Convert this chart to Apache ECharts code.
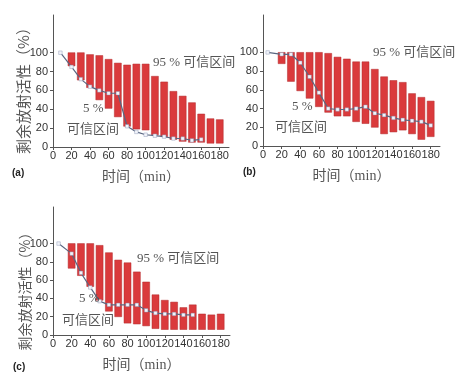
<!DOCTYPE html>
<html>
<head>
<meta charset="utf-8">
<script src="https://cdn.jsdelivr.net/npm/echarts@6/dist/echarts.min.js"></script>
<style>
html,body{margin:0;padding:0;background:#fff;}
#c{width:473px;height:373px;}
</style>
</head>
<body>
<div id="c"></div>
<script>
// ---- data ----
const times = [20,30,40,50,60,70,80,90,100,110,120,130,140,150,160,170,180];

const aHigh = [100,100,98,97,93,89,87,88,88,75,69,59,54,47,35,30,29];
const aLow  = [86,71,63,50,41,32,22,19,18,13,11,8,6,5,5,4,4];
const aLineX = [8,20,30,40,50,60,70,80,90,100,110,120,130,140,150,160];
const aLineY = [100,85,72,64,60,57,57,22,16,13,12,11,9,9,7,8];

const bHigh = [100,100,100,100,100,99,95,93,90,90,82,74,70,68,56,52,48];
const bLow  = [88,69,59,51,42,36,32,32,26,24,20,13,15,17,13,7,10];
const bLineX = [5,20,30,40,50,60,70,80,90,100,110,120,130,140,150,160,170,180];
const bLineY = [100,98,98,89,74,57,40,39,39,40,42,35,33,30,28,27,26,22];

const cHigh = [100,100,100,98,90,82,79,69,58,44,38,36,30,33,23,22,23];
const cLow  = [73,65,53,38,26,20,13,12,10,7,6,6,6,6,6,6,6];
const cLineX = [6,20,30,40,50,60,70,80,90,100,110,120,130,140,150];
const cLineY = [100,89,68,52,37,33,33,33,33,27,24,23,23,22,22];

const xTicks = [0,20,40,60,80,100,120,140,160,180];
const yTicks = [0,20,40,60,80,100];

const yName = '剩余放射活性（%）';
const xName = '时间（min）';
const upperText = '95 % 可信区间';
const lowerText1 = '5 %';
const lowerText2 = '可信区间';
const panelLabels = ['(a)','(b)','(c)'];

// ---- build ----
const panels = [
  {high:aHigh, low:aLow, lx:aLineX, ly:aLineY, grid:{left:53, top:15, width:176, height:132}},
  {high:bHigh, low:bLow, lx:bLineX, ly:bLineY, grid:{left:263, top:15, width:177, height:131}},
  {high:cHigh, low:cLow, lx:cLineX, ly:cLineY, grid:{left:53, top:207, width:177, height:131}}
];

const numFont = "'Liberation Sans', Arial, sans-serif";
const serifFont = "'Liberation Serif', 'Noto Sans CJK SC', serif";
const cjkFont = "'Noto Sans CJK SC', sans-serif";

function renderRange(params, api) {
  const x = api.value(0), lo = api.value(1), hi = api.value(2);
  const pHi = api.coord([x, hi]);
  const pLo = api.coord([x, lo]);
  const w = 7;
  return {
    type:'rect',
    shape:{x:pHi[0] - w/2, y:pHi[1], width:w, height:pLo[1] - pHi[1]},
    style:{fill:'#da3a3c', stroke:'#b32a2c', lineWidth:0.5}
  };
}

const grids = [], xAxes = [], yAxes = [], series = [];
panels.forEach((p, i) => {
  grids.push(Object.assign({containLabel:false}, p.grid));
  xAxes.push({
    type:'value', gridIndex:i, min:0, max:190, interval:20,
    name: xName, nameLocation:'middle', nameGap:23,
    nameTextStyle:{fontFamily:serifFont, fontSize:14, color:'#555'},
    axisLine:{show:true, onZero:false, lineStyle:{color:'#555', width:1}},
    axisTick:{show:true, length:3, customValues:xTicks, lineStyle:{color:'#555'}},
    axisLabel:{customValues:xTicks, margin:3, fontSize:11, fontFamily:numFont, color:'#333',
      formatter: v => v > 180 ? '' : String(v)},
    splitLine:{show:false}
  });
  yAxes.push({
    type:'value', gridIndex:i, min:0, max:140, interval:20,
    axisLine:{show:true, lineStyle:{color:'#555', width:1}},
    axisTick:{show:true, length:3, customValues:yTicks, lineStyle:{color:'#555'}},
    axisLabel:{customValues:yTicks, margin:5, fontSize:11, fontFamily:numFont, color:'#333',
      formatter: v => v > 100 ? '' : String(v)},
    splitLine:{show:false}
  });
  series.push({
    type:'custom', xAxisIndex:i, yAxisIndex:i, renderItem:renderRange,
    encode:{x:0, y:[1,2]},
    data: times.map((t,k) => [t, p.low[k], p.high[k]])
  });
  series.push({
    type:'line', xAxisIndex:i, yAxisIndex:i, z:5,
    symbol:'rect', symbolSize:3.5, showSymbol:true,
    lineStyle:{color:'#5a6680', width:1.2},
    itemStyle:{color:'#f2f4fa', borderColor:'#7d8cab', borderWidth:0.4},
    data: p.lx.map((x,k) => [x, p.ly[k]])
  });
});

function txt(x, y, s, style) {
  return {
    type:'text', x:x, y:y, silent:true, z:100,
    style:Object.assign({text:s, fontSize:13, fontFamily:serifFont, fill:'#555',
      textAlign:'left', textVerticalAlign:'middle'}, style || {})
  };
}

const labelStyle = {fontFamily:numFont, fontWeight:'bold', fontSize:10, fill:'#222'};
const graphics = [
  {type:'text', x:23, y:87, rotation:Math.PI/2, silent:true, z:100,
   style:{text:yName, fontSize:15, fontFamily:cjkFont, fill:'#555', textAlign:'center', textVerticalAlign:'middle'}},
  {type:'text', x:25, y:288, rotation:Math.PI/2, silent:true, z:100,
   style:{text:yName, fontSize:14, fontFamily:cjkFont, fill:'#555', textAlign:'center', textVerticalAlign:'middle'}},
  txt(153, 63, upperText), txt(83, 109, lowerText1), txt(67, 130, lowerText2),
  txt(373, 53, upperText), txt(292, 107, lowerText1), txt(275, 128, lowerText2),
  txt(137, 259, upperText), txt(79, 299, lowerText1), txt(62, 321, lowerText2),
  txt(12, 173, panelLabels[0], labelStyle),
  txt(243, 172, panelLabels[1], labelStyle),
  txt(13, 367, panelLabels[2], labelStyle)
];

const chart = echarts.init(document.getElementById('c'), null, {renderer:'canvas'});
chart.setOption({
  animation:false,
  backgroundColor:'#fff',
  grid:grids, xAxis:xAxes, yAxis:yAxes, series:series,
  graphic:graphics
});
</script>
</body>
</html>
